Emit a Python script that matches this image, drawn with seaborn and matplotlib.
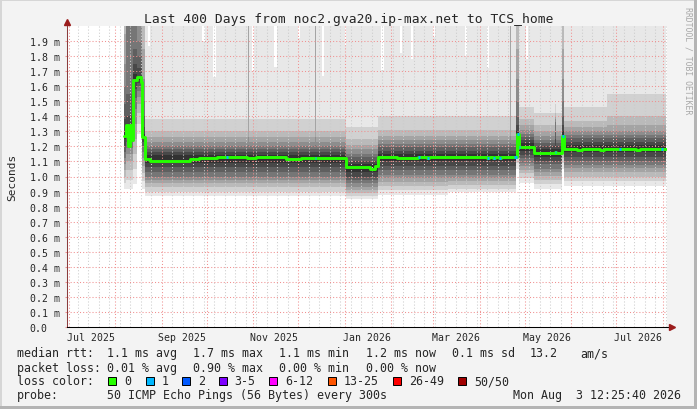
import matplotlib
matplotlib.use("Agg")
import matplotlib.pyplot as plt
import matplotlib.dates as mdates
from matplotlib.patches import Rectangle
from matplotlib.ticker import NullFormatter, FixedLocator
import numpy as np
import pandas as pd
import seaborn as sns

# ---- data ----
# smoke: per time segment, sorted-ping envelopes (ms); qNN = NN-th percentile of the 50 pings
smoke_start = ["2025-08-07", "2025-08-08 08:00", "2025-08-13", "2025-08-15 16:00", "2025-08-19",
               "2025-08-21", "2025-10-28 12:00", "2025-10-29 12:00", "2025-12-12", "2025-12-13",
               "2026-01-02", "2026-01-23", "2026-03-11", "2026-04-21", "2026-04-22",
               "2026-04-25", "2026-04-27", "2026-05-07", "2026-05-21", "2026-05-22",
               "2026-05-26", "2026-05-27", "2026-06-25"]
smoke_end = "2026-08-03 08:00"
q00 = [0.92, 0.92, 0.95, 1.28, 0.92, 0.87, 0.87, 0.87, 0.87, 0.87, 0.85, 0.88, 0.90, 0.90, 0.90, 1.05, 0.96, 0.92, 0.92, 0.92, 1.05, 0.94, 0.94]
q06 = [0.96, 0.98, 1.05, 1.35, 0.97, 0.90, 0.90, 0.90, 0.90, 0.90, 0.87, 0.91, 0.92, 0.92, 0.92, 1.09, 0.99, 0.95, 0.95, 0.95, 1.09, 0.97, 0.97]
q12 = [1.00, 1.04, 1.15, 1.42, 1.02, 0.93, 0.93, 0.93, 0.93, 0.93, 0.89, 0.94, 0.945, 0.945, 0.945, 1.12, 1.02, 0.98, 0.98, 0.98, 1.12, 1.00, 1.00]
q18 = [1.04, 1.10, 1.25, 1.48, 1.07, 0.955, 0.955, 0.955, 0.955, 0.955, 0.91, 0.965, 0.97, 0.97, 0.97, 1.15, 1.045, 1.005, 1.005, 1.005, 1.15, 1.03, 1.03]
q24 = [1.08, 1.15, 1.35, 1.53, 1.12, 0.98, 0.98, 0.98, 0.98, 0.98, 0.93, 0.99, 0.99, 0.99, 0.99, 1.18, 1.07, 1.03, 1.03, 1.03, 1.18, 1.055, 1.055]
q30 = [1.12, 1.19, 1.45, 1.57, 1.16, 1.00, 1.00, 1.00, 1.00, 1.00, 0.955, 1.01, 1.01, 1.01, 1.01, 1.20, 1.09, 1.05, 1.05, 1.05, 1.20, 1.075, 1.075]
q36 = [1.16, 1.23, 1.52, 1.60, 1.20, 1.03, 1.03, 1.03, 1.03, 1.03, 0.98, 1.04, 1.04, 1.04, 1.04, 1.22, 1.12, 1.08, 1.08, 1.08, 1.22, 1.10, 1.10]
q42 = [1.20, 1.26, 1.58, 1.62, 1.23, 1.06, 1.06, 1.06, 1.06, 1.06, 1.00, 1.07, 1.07, 1.07, 1.07, 1.24, 1.14, 1.10, 1.10, 1.10, 1.24, 1.13, 1.13]
q48 = [1.25, 1.29, 1.63, 1.64, 1.25, 1.09, 1.09, 1.09, 1.09, 1.09, 1.03, 1.10, 1.10, 1.10, 1.10, 1.26, 1.17, 1.13, 1.13, 1.13, 1.26, 1.16, 1.16]
q52 = [1.30, 1.33, 1.68, 1.67, 1.28, 1.14, 1.14, 1.14, 1.14, 1.14, 1.08, 1.15, 1.15, 1.15, 1.15, 1.30, 1.22, 1.18, 1.18, 1.18, 1.30, 1.21, 1.21]
q58 = [1.38, 1.40, 1.75, 1.72, 1.33, 1.16, 1.16, 1.16, 1.16, 1.16, 1.10, 1.17, 1.17, 1.17, 1.17, 1.34, 1.24, 1.20, 1.25, 1.20, 1.34, 1.23, 1.23]
q64 = [1.48, 1.55, 1.85, 1.80, 1.40, 1.185, 1.185, 1.185, 1.185, 1.185, 1.13, 1.195, 1.195, 1.195, 1.195, 1.40, 1.265, 1.225, 1.30, 1.225, 1.40, 1.255, 1.255]
q70 = [1.60, 2.10, 2.10, 1.90, 1.50, 1.205, 1.21, 1.205, 1.21, 1.205, 1.15, 1.215, 1.215, 1.22, 1.215, 1.50, 1.285, 1.245, 1.36, 1.245, 1.50, 1.275, 1.275]
q76 = [1.75, 2.10, 2.10, 2.10, 1.65, 1.23, 1.26, 1.23, 1.26, 1.23, 1.18, 1.24, 1.24, 1.27, 1.24, 1.65, 1.31, 1.27, 1.38, 1.27, 1.65, 1.30, 1.30]
q82 = [1.95, 2.10, 2.10, 2.10, 1.85, 1.26, 2.10, 1.26, 2.10, 1.26, 1.21, 1.27, 1.27, 2.10, 1.27, 1.85, 1.34, 1.30, 1.40, 1.30, 1.85, 1.33, 1.34]
q88 = [2.10, 2.10, 2.10, 2.10, 2.10, 1.30, 2.10, 1.30, 2.10, 1.30, 1.25, 1.31, 1.31, 2.10, 1.31, 2.10, 1.38, 1.34, 1.42, 1.34, 2.10, 1.37, 1.40]
q94 = [2.10, 2.10, 2.10, 2.10, 2.10, 1.38, 2.10, 1.38, 2.10, 1.38, 1.33, 1.40, 1.40, 2.10, 1.40, 2.10, 1.46, 1.42, 1.48, 1.42, 2.10, 1.46, 1.55]

# slowest ping per step (only where it stays below the top of the graph)
max_dates = ["2025-08-07", "2025-08-23", "2025-08-24 08:00", "2025-09-28", "2025-09-30", "2025-10-05",
             "2025-10-07", "2025-10-31", "2025-11-01 08:00", "2025-11-15", "2025-11-17", "2025-12-01",
             "2025-12-02", "2025-12-17", "2025-12-18 08:00", "2026-01-01", "2026-01-02", "2026-01-25",
             "2026-01-27", "2026-02-07", "2026-02-08", "2026-02-14", "2026-02-15 08:00", "2026-03-01",
             "2026-03-02", "2026-03-22", "2026-03-23 08:00", "2026-04-06", "2026-04-07", "2026-05-02",
             "2026-05-03"]
max_vals = [2.10, 1.87, 2.10, 1.90, 2.10, 1.66,
            2.10, 1.70, 2.10, 1.73, 2.10, 1.92,
            2.10, 1.67, 2.10, 1.87, 2.10, 1.71,
            2.10, 1.82, 2.10, 1.78, 2.10, 1.93,
            2.10, 1.80, 2.10, 1.72, 2.10, 1.78,
            2.10]

# median rtt (ms) and lost pings per step
med_dates = ["2025-08-07", "2025-08-08 08:00", "2025-08-09 16:00", "2025-08-11", "2025-08-12",
             "2025-08-13", "2025-08-15 16:00", "2025-08-18", "2025-08-19", "2025-08-21",
             "2025-08-24", "2025-09-20", "2025-09-26", "2025-10-08", "2025-10-14", "2025-10-15",
             "2025-10-28", "2025-11-03", "2025-11-23", "2025-12-03", "2025-12-12", "2025-12-13",
             "2026-01-02", "2026-01-12", "2026-01-18", "2026-01-21", "2026-01-23", "2026-02-05",
             "2026-02-19", "2026-02-20", "2026-02-25", "2026-02-26", "2026-03-11", "2026-04-06",
             "2026-04-07", "2026-04-10", "2026-04-11", "2026-04-14", "2026-04-15", "2026-04-24",
             "2026-04-26", "2026-04-27", "2026-04-28", "2026-05-07", "2026-05-21", "2026-05-22",
             "2026-05-26", "2026-05-27", "2026-06-05", "2026-06-08", "2026-06-20", "2026-06-23",
             "2026-07-03", "2026-07-04", "2026-07-14", "2026-07-17", "2026-07-31", "2026-08-01"]
med_vals = [1.27, 1.34, 1.20, 1.34, 1.24,
            1.64, 1.66, 1.63, 1.26, 1.115,
            1.105, 1.115, 1.12, 1.13, 1.13, 1.13,
            1.125, 1.13, 1.115, 1.12, 1.12, 1.125,
            1.065, 1.06, 1.05, 1.07, 1.13, 1.125,
            1.13, 1.13, 1.125, 1.13, 1.128, 1.125,
            1.128, 1.125, 1.128, 1.125, 1.128, 1.13,
            1.28, 1.195, 1.195, 1.155, 1.16, 1.155,
            1.27, 1.183, 1.175, 1.185, 1.175, 1.185,
            1.183, 1.183, 1.175, 1.185, 1.183, 1.183]
med_loss = [0, 0, 0, 0, 0, 0, 0, 0, 0, 0,
            0, 0, 0, 0, 1, 0, 0, 0, 0, 0, 1, 0,
            0, 0, 0, 0, 0, 0, 1, 0, 1, 0, 0, 1,
            0, 1, 0, 1, 0, 1, 1, 1, 0, 0, 1, 0,
            1, 0, 0, 0, 0, 0, 1, 0, 0, 0, 1, 0]
med_end = "2026-08-03 08:00"

ytick_vals = [0.0, 0.1, 0.2, 0.3, 0.4, 0.5, 0.6, 0.7, 0.8, 0.9,
              1.0, 1.1, 1.2, 1.3, 1.4, 1.5, 1.6, 1.7, 1.8, 1.9]
ytick_labels = ["0.0", "0.1 m", "0.2 m", "0.3 m", "0.4 m", "0.5 m", "0.6 m", "0.7 m", "0.8 m", "0.9 m",
                "1.0 m", "1.1 m", "1.2 m", "1.3 m", "1.4 m", "1.5 m", "1.6 m", "1.7 m", "1.8 m", "1.9 m"]
xlabel_dates = ["2025-07-16", "2025-09-15", "2025-11-15", "2026-01-16", "2026-03-16", "2026-05-16", "2026-07-16"]
xlabel_text = ["Jul 2025", "Sep 2025", "Nov 2025", "Jan 2026", "Mar 2026", "May 2026", "Jul 2026"]

loss_labels = ["0", "1", "2", "3-5", "6-12", "13-25", "26-49", "50/50"]
loss_colors = ["#26ff00", "#00b8ff", "#0059ff", "#7e00ff", "#ff00ff", "#ff5500", "#ff0000", "#a10000"]


def to_num(dates):
    return mdates.date2num(pd.to_datetime(dates, format='mixed'))


# ---- figure ----
sns.set_style("white")
plt.rcParams['font.family'] = ['DejaVu Sans Mono']

W, H = 697, 410
fig = plt.figure(figsize=(W / 100, H / 100), dpi=100, facecolor='#f3f3f3')
ax = fig.add_axes([67 / W, (H - 328) / H, 600 / W, 301 / H])
ax.set_facecolor('white')

t0, t1 = to_num(["2025-06-30", "2026-08-04"])
TOP = 2.1  # above the visible range

# smoke: outer (light) band first, then the white gaps where the max stays low,
# then the inner bands getting darker towards the median (smokeping shading)
edges = to_num(smoke_start + [smoke_end])


def ext(a):
    return list(a) + [a[-1]]


ax.fill_between(edges, ext(q00), TOP, step='post', color='#e8e8e8', lw=0, zorder=1)
mx_edges = to_num(max_dates + [smoke_end])
ax.fill_between(mx_edges, ext(max_vals), TOP, step='post', color='white', lw=0, zorder=1.05)

lows = [q06, q12, q18, q24, q30, q36, q42, q48]
highs = [q94, q88, q82, q76, q70, q64, q58, q52]
grays = [209, 186, 164, 141, 118, 95, 72, 50]
for k, (lo, hi, g) in enumerate(zip(lows, highs, grays)):
    c = '#%02x%02x%02x' % (g, g, g)
    ax.fill_between(edges, ext(lo), ext(hi), step='post', color=c, lw=0, zorder=1.1 + k * 0.01)

# median line
mxn = to_num(med_dates + [med_end])
my = med_vals + [med_vals[-1]]
sns.lineplot(x=mxn, y=my, drawstyle='steps-post', color=loss_colors[0], lw=2.1,
             estimator=None, sort=False, ax=ax, zorder=3)
for i, l in enumerate(med_loss):
    if l > 0:
        ax.plot([mxn[i], mxn[i + 1]], [med_vals[i], med_vals[i]], color=loss_colors[l],
                lw=2.1, solid_capstyle='butt', zorder=4)

ax.set_xlim(t0, t1)
ax.set_ylim(0, 2.0)
ax.set_xlabel('')
ax.set_ylabel('')

# grid
ax.set_axisbelow('line')
ax.xaxis.set_major_locator(mdates.MonthLocator())
ax.xaxis.set_minor_locator(mdates.WeekdayLocator(byweekday=mdates.MO))
ax.xaxis.set_major_formatter(NullFormatter())
ax.xaxis.set_minor_formatter(NullFormatter())
ax.yaxis.set_major_locator(FixedLocator(ytick_vals))
ax.set_yticklabels(ytick_labels)
for lab in ax.get_yticklabels():
    lab.set_horizontalalignment('left')
ax.grid(which='minor', axis='x', color='#cccccc', ls=(0, (1, 2)), lw=0.75)
ax.grid(which='major', axis='x', color='#f09090', ls=(0, (1, 2)), lw=0.75)
ax.grid(which='major', axis='y', color='#f09090', ls=(0, (1, 2)), lw=0.75)
ax.tick_params(axis='x', which='major', length=1.5, width=0.75, color='#202020', direction='out')
ax.tick_params(axis='x', which='minor', length=0)
ax.tick_params(axis='y', which='major', length=1.5, width=0.75, color='#f09090',
               pad=25.5, labelsize=7.1, left=True)

for s in ['top', 'right']:
    ax.spines[s].set_visible(False)
ax.spines['left'].set_color('#8c3c3c')
ax.spines['bottom'].set_color('#000000')
ax.spines['left'].set_linewidth(0.75)
ax.spines['bottom'].set_linewidth(0.75)

# axis arrows
arrow_c = '#9b1c1c'
ax.plot([0, 0], [1, 1 + 4 / 301], transform=ax.transAxes, color='#8c3c3c', lw=0.75, clip_on=False)
ax.plot([0], [1 + 4 / 301], marker='^', ms=5, color=arrow_c, transform=ax.transAxes, clip_on=False)
ax.plot([1, 1 + 4 / 600], [0, 0], transform=ax.transAxes, color='#000000', lw=0.75, clip_on=False)
ax.plot([1 + 5 / 600], [0], marker='>', ms=5, color=arrow_c, transform=ax.transAxes, clip_on=False)

# x labels centred on the month
xtr = ax.get_xaxis_transform()
for d, t in zip(to_num(xlabel_dates), xlabel_text):
    ax.text(d, -10 / 301, t, transform=xtr, ha='center', va='center', fontsize=7.1)

# texts
fig.text(0.5, 1 - 19 / H, "Last 400 Days from noc2.gva20.ip-max.net to TCS_home",
         ha='center', va='center', fontsize=9.4)
fig.text(12 / W, 1 - 177 / H, "Seconds", rotation=90, ha='center', va='center', fontsize=8)
fig.text(688 / W, 1 - 7 / H, "RRDTOOL / TOBI OETIKER", rotation=-90, ha='center', va='top',
         fontsize=5.9, color='#a8a8a8')


def ftext(x, y, s, **kw):
    fig.text(x / W, 1 - y / H, s, va='center', ha='left', fontsize=8.4, **kw)


ftext(16.7, 354, "median rtt:")
for x, s in zip([107, 193.3, 279, 365.7, 451.7, 530, 580],
                ["1.1 ms avg", "1.7 ms max", "1.1 ms min", "1.2 ms now", "0.1 ms sd", "13.2", "am/s"]):
    ftext(x, 354, s)
ftext(16.7, 368.3, "packet loss:")
for x, s in zip([107, 193.3, 279, 365.7], ["0.01 % avg", "0.90 % max", "0.00 % min", "0.00 % now"]):
    ftext(x, 368.3, s)
ftext(16.7, 381.7, "loss color:")
box_x = [108.3, 145.7, 182.3, 219, 269.3, 328.3, 393.3, 458.3]
for bx, lab, col in zip(box_x, loss_labels, loss_colors):
    fig.patches.append(Rectangle((bx / W, 1 - 385.8 / H), 8 / W, 8 / H, transform=fig.transFigure,
                                 facecolor=col, edgecolor='black', lw=0.7))
    ftext(bx + 15.5, 381.7, lab)
ftext(16.7, 396, "probe:")
ftext(107, 396, "50 ICMP Echo Pings (56 Bytes) every 300s")
ftext(513.3, 396, "Mon Aug  3 12:25:40 2026")

# 3D frame
fig.patches.append(Rectangle((0, 1 - 2 / H), 1, 2 / H, transform=fig.transFigure, color='#d6d6d6', lw=0))
fig.patches.append(Rectangle((0, 0), 2 / W, 1, transform=fig.transFigure, color='#d6d6d6', lw=0))
fig.patches.append(Rectangle((1 - 3 / W, 0), 3 / W, 1, transform=fig.transFigure, color='#b4b4b4', lw=0))
fig.patches.append(Rectangle((0, 0), 1, 3 / H, transform=fig.transFigure, color='#b4b4b4', lw=0))

fig.savefig("out.png", dpi=100, facecolor=fig.get_facecolor())
